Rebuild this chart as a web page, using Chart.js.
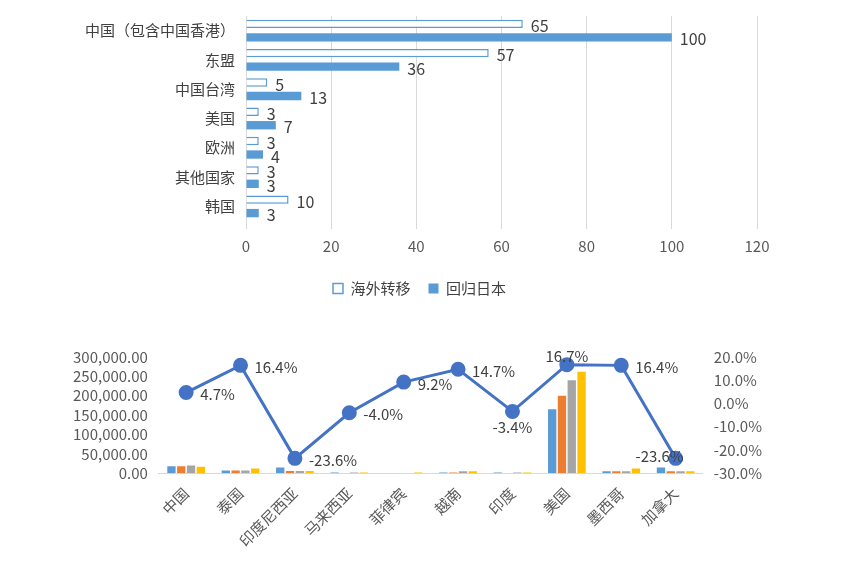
<!DOCTYPE html>
<html><head><meta charset="utf-8">
<script src="https://cdn.jsdelivr.net/npm/chart.js@4"></script>
<style>body{margin:0;background:#fff;width:852px;height:568px;overflow:hidden;font-family:"Noto Sans CJK SC",sans-serif}
#c1{position:absolute;left:0;top:0}#c2{position:absolute;left:0;top:345px}</style></head>
<body><canvas id="c1" width="852" height="306"></canvas><canvas id="c2" width="852" height="223"></canvas>
<script>
const regions=["中国（包含中国香港）","东盟","中国台湾","美国","欧洲","其他国家","韩国"];
const overseas=[65,57,5,3,3,3,10];
const returnJp=[100,36,13,7,4,3,3];
const countries=["中国","泰国","印度尼西亚","马来西亚","菲律宾","越南","印度","美国","墨西哥","加拿大"];
const s1=[18000,7000,15000,2000,0,2000,2000,165000,5000,15000];
const s2=[18000,7000,6000,0,0,2000,0,200000,5000,5000];
const s3=[20000,7000,6000,2000,0,5000,2000,240000,5000,5000];
const s4=[17000,12000,6000,2000,2000,5000,2000,262000,12000,5000];
const growth=[4.7,16.4,-23.6,-4.0,9.2,14.7,-3.4,16.7,16.4,-23.6];
const F='"Noto Sans CJK SC", sans-serif';
Chart.defaults.font.family=F;Chart.defaults.color='#404040';Chart.defaults.animation=false;
const barLabels={id:'bl',afterDatasetsDraw(ch){const c=ch.ctx;c.save();c.font='16px '+F;c.fillStyle='#404040';c.textBaseline='middle';
ch.data.datasets.forEach((d,i)=>{ch.getDatasetMeta(i).data.forEach((el,j)=>{c.fillText(d.data[j],el.x+8,el.y+2);});});c.restore();}};
new Chart(document.getElementById('c1'),{type:'bar',data:{labels:regions,datasets:[
{label:'海外转移',data:overseas,backgroundColor:'#fff',borderColor:'#5B9BD5',borderWidth:1.5,barPercentage:0.62,categoryPercentage:0.92},
{label:'回归日本',data:returnJp,backgroundColor:'#5B9BD5',borderColor:'#5B9BD5',borderWidth:0,barPercentage:0.62,categoryPercentage:0.92}]},
options:{indexAxis:'y',responsive:false,layout:{padding:{left:82,right:95,top:16,bottom:0}},
plugins:{legend:{position:'bottom',labels:{boxWidth:10,boxHeight:10,font:{size:15},color:'#404040',padding:18}},tooltip:{enabled:false}},
scales:{x:{min:0,max:120,ticks:{stepSize:20,font:{size:15},color:'#595959',padding:8},grid:{color:'#d9d9d9'},border:{display:false}},
y:{ticks:{font:{size:15},color:'#404040'},grid:{display:false},border:{color:'#d9d9d9'}}}},plugins:[barLabels]});
const lineLabels={id:'ll',afterDatasetsDraw(ch){const c=ch.ctx;c.save();c.font='15px '+F;c.fillStyle='#404040';c.textBaseline='middle';
const m=ch.getDatasetMeta(4);m.data.forEach((el,j)=>{const t=growth[j].toFixed(1)+'%';
if(j===7){c.textAlign='center';c.fillText(t,el.x,el.y-8);}else if(j===9){c.textAlign='right';c.fillText(t,el.x+8,el.y-2);}
else if(j===6){c.textAlign='center';c.fillText(t,el.x,el.y+16);}else{c.textAlign='left';c.fillText(t,el.x+14,el.y+2);}});c.restore();}};
const bp={barPercentage:0.85,categoryPercentage:0.72,yAxisID:'y',order:2};
new Chart(document.getElementById('c2'),{data:{labels:countries,datasets:[
{type:'bar',data:s1,backgroundColor:'#5B9BD5',...bp},{type:'bar',data:s2,backgroundColor:'#ED7D31',...bp},
{type:'bar',data:s3,backgroundColor:'#A5A5A5',...bp},{type:'bar',data:s4,backgroundColor:'#FFC000',...bp},
{type:'line',data:growth,yAxisID:'y1',borderColor:'#4472C4',backgroundColor:'#4472C4',borderWidth:3,pointRadius:6,order:1}]},
options:{responsive:false,layout:{padding:{left:70,right:87,top:11,bottom:15}},plugins:{legend:{display:false},tooltip:{enabled:false}},
scales:{x:{ticks:{font:{size:15},color:'#595959',maxRotation:45,minRotation:45},grid:{display:false},border:{color:'#d9d9d9'}},
y:{min:0,max:300000,ticks:{stepSize:50000,autoSkip:false,font:{size:15},color:'#595959',callback:v=>v.toLocaleString('en-US',{minimumFractionDigits:2})},grid:{display:false},border:{display:false}},
y1:{position:'right',min:-30,max:20,ticks:{stepSize:10,autoSkip:false,font:{size:15},color:'#595959',callback:v=>v.toFixed(1)+'%'},grid:{display:false},border:{display:false}}}},plugins:[lineLabels]});
</script></body></html>
